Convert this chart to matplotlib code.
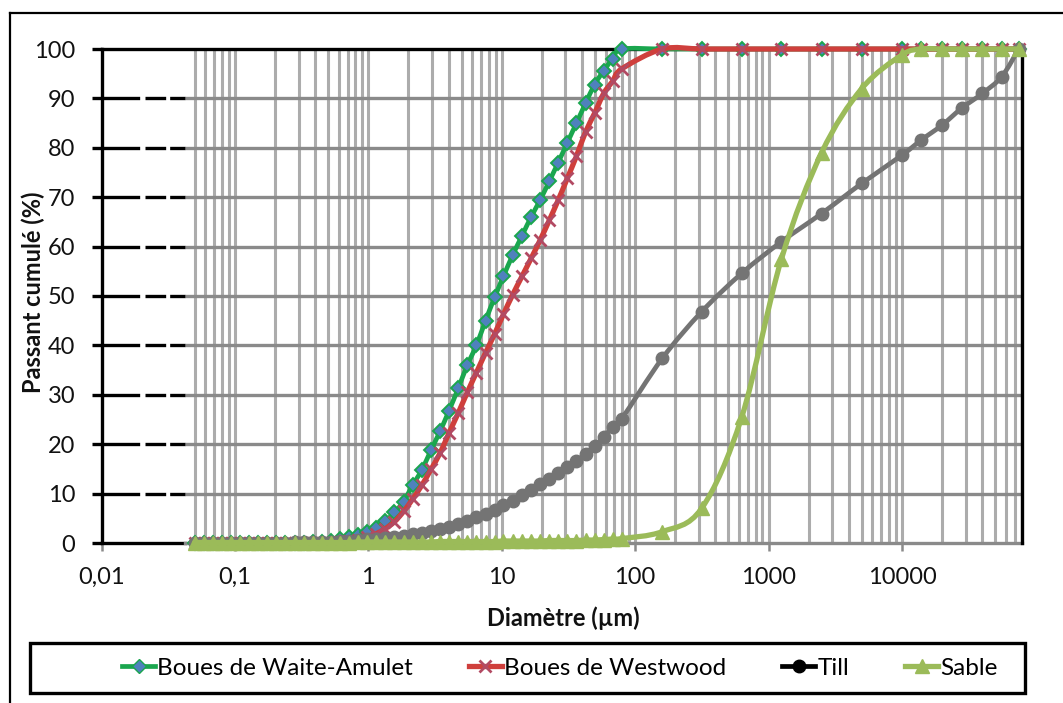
import numpy as np
import matplotlib
matplotlib.use("Agg")
import matplotlib.pyplot as plt
from matplotlib.path import Path
from matplotlib.patches import PathPatch, Rectangle
from matplotlib.lines import Line2D
from matplotlib.ticker import NullLocator

# Laser-diffraction size classes (µm)
diam_laser = [0.0498, 0.0582, 0.0681, 0.0797, 0.0933, 0.109, 0.128, 0.149, 0.175, 0.204,
              0.239, 0.280, 0.327, 0.383, 0.448, 0.524, 0.613, 0.717, 0.839, 0.982,
              1.15, 1.34, 1.57, 1.84, 2.15, 2.52, 2.95, 3.45, 4.03, 4.72,
              5.52, 6.46, 7.56, 8.84, 10.3, 12.1, 14.2, 16.6, 19.4, 22.7,
              26.5, 31.0, 36.3, 42.5, 49.7, 58.1, 68.0, 79.6]
# Sieve openings (µm)
diam_sieve = [160, 315, 630, 1250, 2500, 5000, 10000, 14000, 20000, 28000, 40000, 56000, 75000]

waite_laser = [0, 0, 0, 0, 0, 0, 0, 0, 0, 0,
               0, 0.05, 0.1, 0.2, 0.3, 0.5, 0.8, 1.2, 1.7, 2.3,
               3.1, 4.4, 6.2, 8.4, 11.7, 14.8, 18.8, 22.6, 26.8, 31.3,
               36.0, 40.0, 45.0, 49.7, 54.0, 58.3, 62.2, 66.0, 69.4, 73.2,
               77.0, 81.0, 85.0, 89.0, 92.8, 95.6, 98.0, 100]
waite_sieve = [100, 100, 100, 100, 100, 100, 100, 100, 100, 100, 100, 100, 100]

westwood_laser = [0, 0, 0, 0, 0, 0, 0, 0, 0, 0,
                  0, 0, 0, 0, 0, 0.1, 0.2, 0.4, 0.7, 1.2,
                  1.9, 2.9, 4.3, 6.4, 8.9, 11.7, 14.9, 18.2, 22.3, 26.3,
                  30.5, 34.5, 38.5, 42.3, 46.3, 50.3, 54.0, 57.6, 61.3, 65.3,
                  69.4, 73.8, 78.3, 83.2, 87.0, 91.0, 93.5, 96.0]
westwood_sieve = [100, 100, 100, 100, 100, 100, 100, 100, 100, 100, 100, 100, 100]

till_laser = [0, 0, 0, 0, 0, 0, 0.02, 0.05, 0.05, 0.08,
              0.1, 0.12, 0.15, 0.2, 0.25, 0.3, 0.4, 0.5, 0.6, 0.75,
              0.9, 1.1, 1.3, 1.5, 1.8, 2.1, 2.5, 2.9, 3.3, 3.9,
              4.5, 5.2, 5.9, 6.6, 7.6, 8.6, 9.8, 10.8, 12.0, 13.0,
              14.2, 15.3, 16.6, 18.0, 19.7, 21.4, 23.5, 25.2]
till_sieve = [37.4, 46.8, 54.6, 61.0, 66.7, 72.8, 78.5, 81.6, 84.6, 88.0, 91.0, 94.4, 100]

sable_laser = [0.1, 0.1, 0.1, 0.1, 0.1, 0.1, 0.1, 0.1, 0.1, 0.1,
               0.1, 0.1, 0.1, 0.1, 0.1, 0.1, 0.1, 0.1, 0.2, 0.2,
               0.2, 0.2, 0.2, 0.2, 0.2, 0.2, 0.2, 0.3, 0.3, 0.3,
               0.3, 0.3, 0.3, 0.3, 0.4, 0.4, 0.4, 0.4, 0.4, 0.5,
               0.5, 0.5, 0.5, 0.6, 0.6, 0.7, 0.8, 0.9]
sable_sieve = [2.3, 7.0, 25.5, 57.5, 79.0, 92.0, 98.8, 100, 100, 100, 100, 100, 100]

series_names = ["Boues de Waite-Amulet", "Boues de Westwood", "Till", "Sable"]
x_ticks = [0.01, 0.1, 1, 10, 100, 1000, 10000]
x_tick_labels = ["0,01", "0,1", "1", "10", "100", "1000", "10000"]
y_ticks = [0, 10, 20, 30, 40, 50, 60, 70, 80, 90, 100]

plt.rcParams['font.family'] = ['Lato', 'DejaVu Sans']

W, H = 1063, 703
fig = plt.figure(figsize=(W / 100, H / 100), dpi=100)
ax = fig.add_axes([101.5 / W, 1 - 543 / H, (1022.4 - 101.5) / W, (543 - 49) / H])
ax.set_xscale('log')
ax.set_xlim(0.01, 80000)
ax.set_ylim(0, 100)


def smooth_path(xs, ys):
    """Smoothed line through the points (Catmull-Rom in log-x space)."""
    pts = np.column_stack([np.log10(np.asarray(xs, float)), np.asarray(ys, float)])
    n = len(pts)
    verts = [pts[0]]
    codes = [Path.MOVETO]
    for i in range(n - 1):
        p0 = pts[max(i - 1, 0)]
        p1 = pts[i]
        p2 = pts[i + 1]
        p3 = pts[min(i + 2, n - 1)]
        c1 = p1 + (p2 - p0) / 6.0
        c2 = p2 - (p3 - p1) / 6.0
        verts += [c1, c2, p2]
        codes += [Path.CURVE4] * 3
    verts = np.array(verts)
    verts[:, 0] = 10 ** verts[:, 0]
    return Path(verts, codes)


# ---- grid (semi-log paper) ----
grid_x = [m * 10.0 ** e for e in range(-2, 5) for m in range(1, 10)]
grid_x = [g for g in grid_x if 0.05 <= g <= 80000] + [80000]
ax.vlines(grid_x, 0, 100, colors='#acacac', lw=2.2, zorder=1)
grid_start = 0.042
ax.hlines(y_ticks[1:-1], grid_start, 80000, colors='#8a8a8a', lw=2.4, zorder=1.2)
for yv in y_ticks[1:-1]:
    ax.plot([0.01, grid_start], [yv, yv], color='black', lw=2.4,
            dashes=(11.3, 1.6, 6.2, 1.2), solid_capstyle='butt', zorder=1.3)
# bottom axis line
ax.plot([0.01, grid_start], [0, 0], color='black', lw=2.4, zorder=1.4, clip_on=False)
ax.plot([grid_start, 80000], [0, 0], color='#8a8a8a', lw=2.4, zorder=1.4, clip_on=False)

ax.spines['bottom'].set_visible(False)
for side in ['left', 'top', 'right']:
    ax.spines[side].set_color('black')
    ax.spines[side].set_linewidth(2.4)
ax.spines['top'].set_zorder(1.5)

# ---- series ----
styles = [
    dict(x=diam_laser + diam_sieve, y=waite_laser + waite_sieve, line='#1aa64e',
         marker='D', ms=7.0, mfc='#4f81bd', mec='#1aa64e', mew=1.4, lw=3.4),
    dict(x=diam_laser + diam_sieve, y=westwood_laser + westwood_sieve, line='#cf3f3c',
         marker='x', ms=9.0, mfc='#b24a63', mec='#b24a63', mew=2.0, lw=3.8),
    dict(x=diam_laser + diam_sieve, y=till_laser + till_sieve, line='#747474',
         marker='o', ms=9.0, mfc='#747474', mec='#747474', mew=1.0, lw=3.4),
    dict(x=diam_laser + diam_sieve, y=sable_laser + sable_sieve, line='#9bbb59',
         marker='^', ms=9.5, mfc='#9bbb59', mec='#9bbb59', mew=1.0, lw=3.8),
]
z = 3
for st in styles:
    patch = PathPatch(smooth_path(st['x'], st['y']), fill=False, edgecolor=st['line'],
                      lw=st['lw'], capstyle='round', joinstyle='round', zorder=z,
                      transform=ax.transData, clip_on=False)
    ax.add_patch(patch)
    ax.plot(st['x'], st['y'], ls='none', marker=st['marker'], ms=st['ms'],
            mfc=st['mfc'], mec=st['mec'], mew=st['mew'], zorder=z + 0.5, clip_on=False)
    z += 1

# ---- ticks ----
ax.set_xticks(x_ticks, x_tick_labels)
ax.xaxis.set_minor_locator(NullLocator())
ax.set_yticks(y_ticks)
ax.tick_params(axis='x', direction='out', length=6, width=1.8, color='#8a8a8a',
               pad=11, labelsize=17, labelcolor='#111111')
ax.tick_params(axis='y', direction='out', length=7, width=2.4, color='black',
               pad=12, labelsize=17, labelcolor='#111111')
for t in ax.xaxis.get_major_ticks()[:2]:
    t.tick1line.set_color('black')

# ---- axis titles ----
fig.text(33 / W, 1 - 292 / H, 'Passant cumulé (%)', rotation=90, ha='center', va='center',
         fontsize=17, fontweight='bold', color='#111111')
fig.text(563 / W, 1 - 618 / H, 'Diamètre (µm)', ha='center', va='center',
         fontsize=17, fontweight='bold', color='#111111')

# ---- legend ----
handles = [
    Line2D([], [], color='#1aa64e', lw=3.4, marker='D', ms=7, mfc='#4f81bd', mec='#1aa64e'),
    Line2D([], [], color='#cf3f3c', lw=3.8, marker='x', ms=9, mec='#b24a63', mew=2.0),
    Line2D([], [], color='black', lw=3.4, marker='o', ms=9, mfc='black', mec='black'),
    Line2D([], [], color='#9bbb59', lw=3.8, marker='^', ms=9.5, mfc='#9bbb59', mec='#9bbb59'),
]
fig.legend(handles, series_names, loc='center', bbox_to_anchor=(560 / W, 1 - 668 / H),
           ncol=4, frameon=False, fontsize=17.5, handlelength=1.35, handletextpad=0.1,
           columnspacing=2.3, borderaxespad=0)
fig.add_artist(Rectangle((30 / W, 1 - 693 / H), 995 / W, 50 / H, transform=fig.transFigure,
                         fill=False, ec='black', lw=2.4))

# outer frame (left and top edges)
fig.add_artist(Line2D([10 / W, 10 / W], [0, 1 - 13 / H], transform=fig.transFigure,
                      color='black', lw=1.6))
fig.add_artist(Line2D([10 / W, 1], [1 - 13 / H, 1 - 13 / H], transform=fig.transFigure,
                      color='black', lw=1.6))

fig.savefig('out.png', dpi=100, facecolor='white')
